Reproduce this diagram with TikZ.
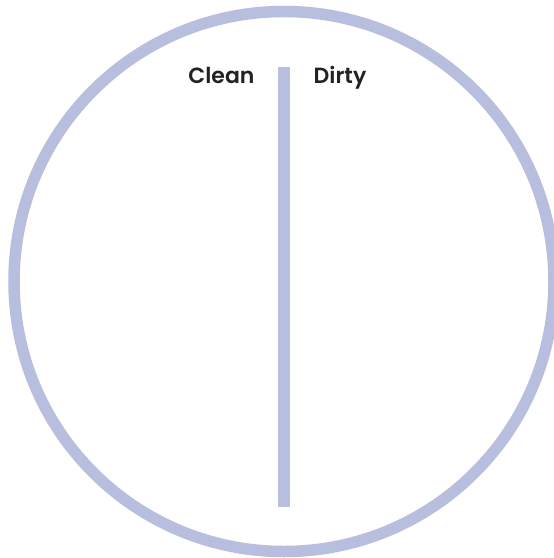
\documentclass[tikz,border=0pt]{standalone}
\usepackage{fontspec}
\newfontfamily\labelfont{Poppins SemiBold}
\definecolor{platelilac}{RGB}{184,190,222}
\definecolor{labelgray}{RGB}{34,34,34}
\usetikzlibrary{positioning}

\begin{document}
\begin{tikzpicture}[x=1pt,y=-1pt,
  rim/.style={draw=platelilac,line width=11.5pt},
  divider/.style={fill=platelilac},
  sidetext/.style={font=\labelfont\fontsize{22}{22}\selectfont,text=labelgray,anchor=base,inner sep=0pt},
]

\useasboundingbox (0,0) rectangle (554,558);
\clip (0,0) rectangle (554,558);

\coordinate (centre) at (284,281.5);
\draw[rim] (centre) circle[radius=270];
\fill[divider] (278,66.5) rectangle (290,506.5);

\node[sidetext] (clean) at (221.5,83) {Clean};
\node[sidetext] (dirty) at (340,83) {Dirty};

\end{tikzpicture}
\end{document}
